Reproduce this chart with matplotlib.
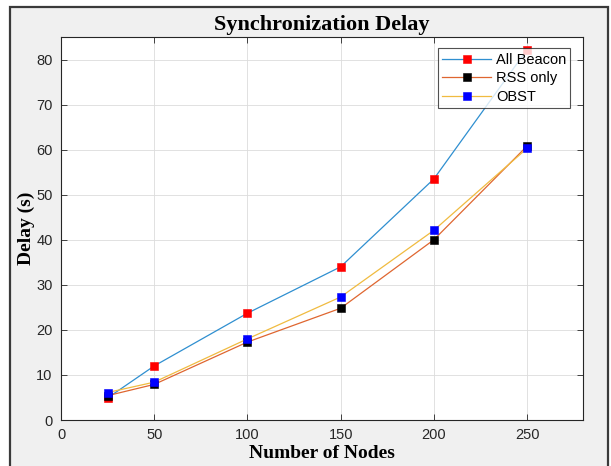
#!/usr/bin/env python3
"""Synchronization delay vs number of nodes (MATLAB-style figure)."""
import matplotlib
matplotlib.use("Agg")
import matplotlib.pyplot as plt
from matplotlib.patches import Rectangle

# data
nodes = [25, 50, 100, 150, 200, 250]
all_beacon = [4.9, 12.0, 23.7, 34.0, 53.5, 82.2]
rss_only = [5.4, 7.9, 17.3, 24.8, 40.0, 60.8]
obst = [6.1, 8.4, 18.0, 27.3, 42.1, 60.3]

series_names = ["All Beacon", "RSS only", "OBST"]
x_ticks = [0, 50, 100, 150, 200, 250]
y_ticks = [0, 10, 20, 30, 40, 50, 60, 70, 80]

W, H = 611, 466
fig = plt.figure(figsize=(W / 100, H / 100), dpi=100, facecolor="white")

# grey MATLAB figure window with dark frame
frame = Rectangle((10 / W, -0.01), 598 / W, (H - 7) / H + 0.01,
                  transform=fig.transFigure, facecolor="#F0F0F0",
                  edgecolor="#3a3a3a", lw=1.6, zorder=-10)
fig.patches.append(frame)

ax = fig.add_axes([61 / W, (H - 420) / H, (583 - 61) / W, (420 - 37) / H])
ax.set_facecolor("white")
ax.set_zorder(1)

serif = "Liberation Serif"
sans = "Liberation Sans"

style = dict(lw=0.9, ms=5.8, mew=0.4, zorder=3)
ax.plot(nodes, all_beacon, "-s", color="#2F8FD0", mfc="red", mec="red",
        label=series_names[0], **style)
ax.plot(nodes, rss_only, "-s", color="#DF6630", mfc="black", mec="black",
        label=series_names[1], **style)
ax.plot(nodes, obst, "-s", color="#F0BB40", mfc="blue", mec="blue",
        label=series_names[2], **style)

ax.set_xlim(0, 280)
ax.set_ylim(0, 85)
ax.set_xticks(x_ticks)
ax.set_yticks(y_ticks)
ax.grid(True, color="#DCDCDC", lw=0.6)
ax.set_axisbelow(True)

for s in ax.spines.values():
    s.set_color("#262626")
    s.set_linewidth(0.8)
ax.tick_params(direction="in", length=4, width=0.6, color="#262626",
               top=True, right=True, labelsize=10.5, labelcolor="#262626", pad=6)
for lab in ax.get_xticklabels() + ax.get_yticklabels():
    lab.set_fontfamily(sans)

ax.set_title("Synchronization Delay", fontfamily=serif, fontweight="bold",
             fontsize=16, pad=5)
ax.set_xlabel("Number of Nodes", fontfamily=serif, fontweight="bold",
              fontsize=14, labelpad=2)
ax.set_ylabel("Delay (s)", fontfamily=serif, fontweight="bold",
              fontsize=14, labelpad=1)

leg = ax.legend(loc="upper right", bbox_to_anchor=(0.976, 0.97),
                prop={"family": sans, "size": 10.5}, frameon=True,
                fancybox=False, borderpad=0.3, labelspacing=0.3,
                handlelength=3.4, handletextpad=0.3, borderaxespad=0,
                markerscale=0.9)
leg.get_frame().set_edgecolor("#262626")
leg.get_frame().set_linewidth(0.8)
leg.set_zorder(5)

fig.savefig("out.png", dpi=100, facecolor=fig.get_facecolor())
